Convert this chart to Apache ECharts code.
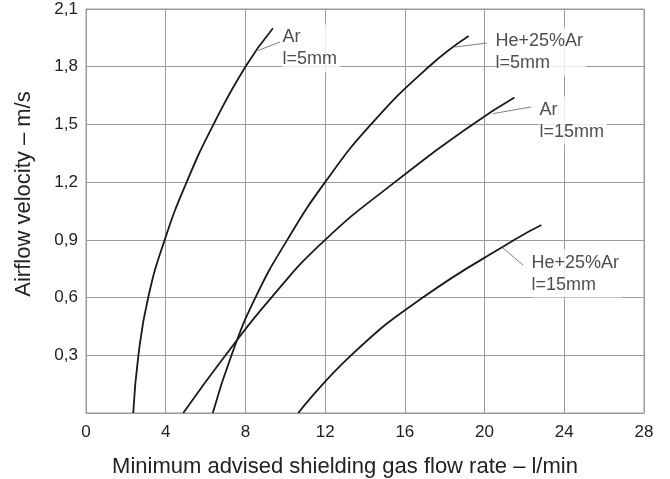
<!DOCTYPE html>
<html><head><meta charset="utf-8">
<script src="https://cdn.jsdelivr.net/npm/echarts@6/dist/echarts.min.js"></script>
<style>html,body{margin:0;padding:0;background:#fff}#c{width:670px;height:479px}</style>
</head><body><div id="c"></div>
<script>
// tick labels
const xTickLabels = ['0','4','8','12','16','20','24','28'];
const yTickLabels = ['', '0,3','0,6','0,9','1,2','1,5','1,8','2,1'];
const xTitle = 'Minimum advised shielding gas flow rate \u2013 l/min';
const yTitle = 'Airflow velocity \u2013 m/s';

// curves: [flow rate l/min, airflow velocity m/s]
const arL5   = [[2.37,0],[2.63,0.3],[3.12,0.6],[3.95,0.9],[5.05,1.2],[6.4,1.5],[8.0,1.8],[9.38,2.0]];
const heL5   = [[6.36,0],[7.3,0.3],[8.5,0.6],[10.1,0.9],[12.0,1.2],[14.3,1.5],[17.2,1.8],[19.2,1.96]];
const arL15  = [[4.88,0],[7.0,0.3],[9.3,0.6],[12.0,0.9],[15.5,1.2],[19.4,1.5],[21.5,1.64]];
const heL15  = [[10.65,0],[13.3,0.3],[16.9,0.6],[21.5,0.9],[22.85,0.977]];

// curve labels and their anchors (top-left of text) and leader lines
const curveLabels = ['Ar\nl=5mm', 'He+25%Ar\nl=5mm', 'Ar\nl=15mm', 'He+25%Ar\nl=15mm'];
const labelAnchors = [[9.88,2.017],[20.57,2.001],[22.78,1.642],[22.38,0.847]];
const leaders = [
  [[8.63,1.884],[9.73,1.928]],
  [[18.51,1.902],[20.12,1.923]],
  [[20.42,1.556],[22.33,1.591]],
  [[20.92,0.858],[21.93,0.769]]
];

const FONT = '"Liberation Sans", Arial, sans-serif';
const curves = [arL5, heL5, arL15, heL15];

const series = [];
leaders.forEach(function(l){
  series.push({type:'line', data:l, symbol:'none', silent:true, z:3,
    lineStyle:{color:'#808080', width:1}});
});
series.push({
  type:'scatter', z:2, silent:true, symbolSize:1,
  itemStyle:{color:'rgba(0,0,0,0)'},
  data: labelAnchors.map(function(a,i){return {value:a, label:{formatter:curveLabels[i]}};}),
  label:{show:true, position:[0,0], align:'left', verticalAlign:'top',
    fontFamily:FONT, fontSize:18, lineHeight:22, color:'#222',
    backgroundColor:'#fff', padding:[2,3,2,0]}
});
curves.forEach(function(c){
  series.push({type:'line', data:c, symbol:'none', smooth:0.5, z:4, silent:true,
    lineStyle:{color:'#1a1a1a', width:1.8}});
});

const chart = echarts.init(document.getElementById('c'), null, {renderer:'canvas'});
chart.setOption({
  animation:false,
  backgroundColor:'#fff',
  grid:{left:86, right:26, top:9, bottom:66, show:true, borderColor:'#9a9a9a', borderWidth:1},
  xAxis:{type:'value', min:0, max:28, interval:4,
    axisLine:{show:true, lineStyle:{color:'#9a9a9a'}}, axisTick:{show:false},
    splitLine:{show:true, lineStyle:{color:'#9a9a9a', width:1}},
    axisLabel:{fontFamily:FONT, fontSize:17, color:'#222', margin:11,
      formatter:function(v,i){return xTickLabels[i];}}},
  yAxis:{type:'value', min:0, max:2.1, interval:0.3,
    axisLine:{show:true, lineStyle:{color:'#9a9a9a'}}, axisTick:{show:false},
    splitLine:{show:true, lineStyle:{color:'#9a9a9a', width:1}},
    axisLabel:{fontFamily:FONT, fontSize:17, color:'#222', margin:8,
      formatter:function(v,i){return yTickLabels[i];}}},
  graphic:[
    {type:'text', x:345, y:467, style:{text:xTitle, font:'22px '+FONT, fill:'#222', align:'center', verticalAlign:'middle'}},
    {type:'text', x:24, y:194, rotation:Math.PI/2, style:{text:yTitle, font:'22px '+FONT, fill:'#222', align:'center', verticalAlign:'middle'}}
  ],
  series:series
});
</script></body></html>
